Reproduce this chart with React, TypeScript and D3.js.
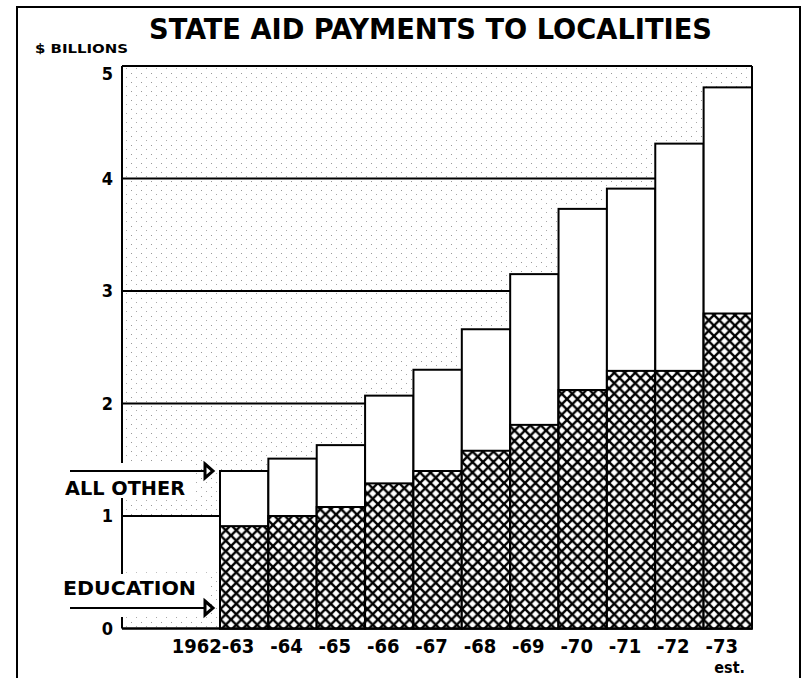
import React from 'react';
import * as d3 from 'd3';

// values in $ billions
const years = ['1962-63', '-64', '-65', '-66', '-67', '-68', '-69', '-70', '-71', '-72', '-73'];
const totalAid = [1.40, 1.51, 1.63, 2.07, 2.30, 2.66, 3.15, 3.73, 3.91, 4.31, 4.81];
const education = [0.91, 1.00, 1.08, 1.29, 1.40, 1.58, 1.81, 2.12, 2.29, 2.29, 2.80];
const yTicks = [0, 1, 2, 3, 4, 5];

const W = 807;
const H = 678;
const FONT = "'DejaVu Sans Condensed', 'DejaVu Sans', sans-serif";

const App = () => {
  const plotLeft = 122;
  const plotRight = 752;

  const x = d3.scaleBand().domain(years).range([220, plotRight]).padding(0);
  const y = d3.scaleLinear().domain([0, 5]).range([628.5, 66]);

  const bars = years.map((yr, i) => ({ yr, total: totalAid[i], edu: education[i] }));

  const arrow = (yy: number) => (
    <g>
      <line x1={70} x2={206} y1={yy} y2={yy} stroke="#000" strokeWidth={2} />
      <path d={`M205,${yy - 7} L213,${yy} L205,${yy + 7} Z`} fill="#fff" stroke="#000" strokeWidth={3} strokeLinejoin="miter" />
    </g>
  );

  return (
    <svg width={W} height={H} style={{ position: 'absolute', left: 0, top: 0, display: 'block', background: '#fff' }}>
      <defs>
        <pattern id="stipple" width={10} height={9} patternUnits="userSpaceOnUse">
          <rect x={1} y={1} width={1} height={1} fill="#999" />
          <rect x={6} y={5} width={1} height={1} fill="#aaa" />
        </pattern>
        <pattern id="hatch" width={10.5} height={10.5} patternUnits="userSpaceOnUse">
          <rect width={10.5} height={10.5} fill="#fff" />
          <path d="M-2.625,2.625 l5.25,-5.25 M0,10.5 l10.5,-10.5 M7.875,13.125 l5.25,-5.25" stroke="#000" strokeWidth={2.4} />
          <path d="M-2.625,7.875 l5.25,5.25 M0,0 l10.5,10.5 M7.875,-2.625 l5.25,5.25" stroke="#000" strokeWidth={2.4} />
        </pattern>
      </defs>

      {/* outer frame */}
      <path d={`M17,${H + 5} L17,7 L800,7 L800,${H + 5}`} fill="none" stroke="#000" strokeWidth={2} />

      <text x={149} y={39} fontFamily={FONT} fontWeight="bold" fontSize={29} textLength={563} lengthAdjust="spacingAndGlyphs">
        STATE AID PAYMENTS TO LOCALITIES
      </text>
      <text x={35} y={53} fontFamily={FONT} fontWeight="bold" fontSize={12.5} textLength={93} lengthAdjust="spacingAndGlyphs">
        $ BILLIONS
      </text>

      {/* stippled plot background */}
      <rect x={plotLeft} y={y(5)} width={plotRight - plotLeft} height={y(0) - y(5)} fill="url(#stipple)" />
      <rect x={plotLeft} y={y(1)} width={x(years[0])! - plotLeft} height={y(0.5) - y(1)} fill="#fff" />

      {/* grid lines */}
      {yTicks.map(t => (
        <line key={t} x1={plotLeft} x2={plotRight} y1={y(t)} y2={y(t)} stroke="#000" strokeWidth={2} />
      ))}
      <line x1={plotLeft} x2={plotLeft} y1={y(5)} y2={y(0)} stroke="#000" strokeWidth={2} />
      <line x1={plotRight} x2={plotRight} y1={y(5)} y2={y(0)} stroke="#000" strokeWidth={2} />

      {yTicks.map(t => (
        <text key={t} x={113} y={y(t) + (t === 5 ? 8 : 0)} dy="0.36em" textAnchor="end" fontFamily={FONT} fontWeight="bold" fontSize={18}>
          {t}
        </text>
      ))}

      {/* bars */}
      {bars.map(d => (
        <g key={d.yr}>
          <rect x={x(d.yr)} y={y(d.total)} width={x.bandwidth()} height={y(0) - y(d.total)} fill="#fff" stroke="#000" strokeWidth={2} />
          <rect x={x(d.yr)} y={y(d.edu)} width={x.bandwidth()} height={y(0) - y(d.edu)} fill="url(#hatch)" stroke="#000" strokeWidth={2} />
        </g>
      ))}
      <line x1={plotLeft} x2={plotRight} y1={y(0)} y2={y(0)} stroke="#000" strokeWidth={2} />

      {/* series labels with arrows */}
      <rect x={58} y={463} width={134} height={35} fill="#fff" />
      {arrow(y(totalAid[0]))}
      <text x={65} y={495} fontFamily={FONT} fontWeight="bold" fontSize={20} textLength={120} lengthAdjust="spacingAndGlyphs">
        ALL OTHER
      </text>
      <rect x={58} y={574} width={150} height={43} fill="#fff" />
      {arrow(608)}
      <text x={63} y={595} fontFamily={FONT} fontWeight="bold" fontSize={20} textLength={133} lengthAdjust="spacingAndGlyphs">
        EDUCATION
      </text>

      {/* x labels */}
      {years.map(yr => (
        <text key={yr} x={x(yr)! + x.bandwidth() - 14} y={653} textAnchor="end" fontFamily={FONT} fontWeight="bold" fontSize={20}>
          {yr}
        </text>
      ))}
      <text x={745} y={673} textAnchor="end" fontFamily={FONT} fontWeight="bold" fontSize={16}>
        est.
      </text>
    </svg>
  );
};

export default App;
